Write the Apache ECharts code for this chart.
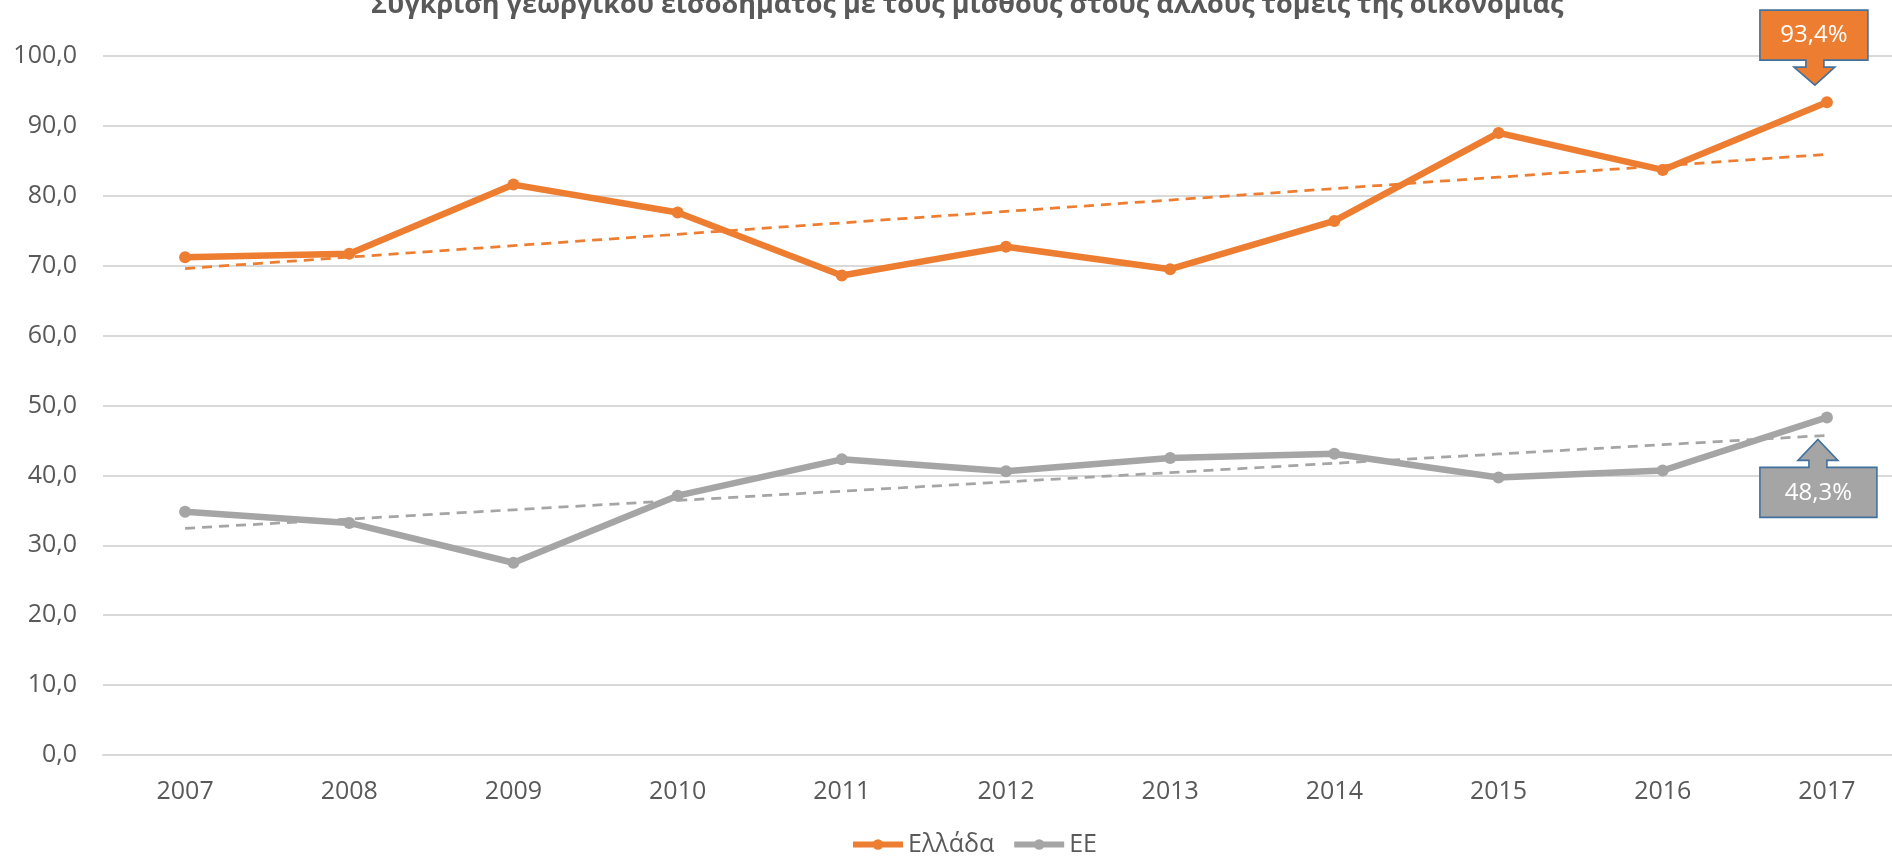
<!DOCTYPE html>
<html>
<head>
<meta charset="utf-8">
<script src="https://cdn.jsdelivr.net/npm/echarts@6/dist/echarts.min.js"></script>
<style>
  html, body { margin: 0; padding: 0; background: #ffffff; overflow: hidden; }
  /* plot area runs slightly past the right edge of the window */
  #chart { width: 1912px; height: 856px; }
</style>
</head>
<body>
<div id="chart"></div>
<script>
// Years on the category axis
const years = ['2007', '2008', '2009', '2010', '2011', '2012', '2013', '2014', '2015', '2016', '2017'];
// Agricultural income as % of wages in other sectors
const greece = [71.2, 71.7, 81.6, 77.6, 68.6, 72.7, 69.5, 76.4, 89.0, 83.7, 93.4];
const eu = [34.8, 33.2, 27.5, 37.1, 42.3, 40.6, 42.5, 43.1, 39.7, 40.7, 48.3];
const seriesNames = ['Ελλάδα', 'ΕΕ'];
const titleText = 'Σύγκριση γεωργικού εισοδήματος με τους μισθούς στους άλλους τομείς της οικονομίας';

const ORANGE = '#ED7D31';
const GREY = '#A5A5A5';
const TEXT = '#595959';
const BORDER = '#41719C';
const FONT = '"Open Sans", "Noto Sans", sans-serif';

// Least-squares linear trend over the category index
function linearTrend(values) {
  const n = values.length;
  let sx = 0, sy = 0, sxy = 0, sxx = 0;
  values.forEach((v, i) => { sx += i; sy += v; sxy += i * v; sxx += i * i; });
  const slope = (n * sxy - sx * sy) / (n * sxx - sx * sx);
  const icept = (sy - slope * sx) / n;
  return values.map((_, i) => +(icept + slope * i).toFixed(3));
}

const fmt = v => v.toFixed(1).replace('.', ',');

const chart = echarts.init(document.getElementById('chart'), null, { renderer: 'canvas' });

chart.setOption({
  animation: false,
  backgroundColor: '#ffffff',
  title: {
    text: titleText,
    left: 371,
    top: -8,
    padding: 0,
    textStyle: { fontFamily: FONT, fontSize: 27, fontWeight: 'bold', color: TEXT }
  },
  legend: {
    data: seriesNames,
    left: 850,
    top: 832,
    itemWidth: 50,
    itemHeight: 13,
    itemGap: 17,
    padding: 0,
    lineStyle: { width: 6 },
    textStyle: { fontFamily: FONT, fontSize: 25, color: TEXT }
  },
  grid: { left: 103, top: 56, width: 1806, height: 699, containLabel: false },
  xAxis: {
    type: 'category',
    data: years,
    boundaryGap: true,
    axisLine: { show: true, lineStyle: { color: '#D9D9D9', width: 2 } },
    axisTick: { show: false },
    axisLabel: { fontFamily: FONT, fontSize: 25, color: TEXT, margin: 24 }
  },
  yAxis: {
    type: 'value',
    min: 0,
    max: 100,
    interval: 10,
    axisLine: { show: false },
    axisTick: { show: false },
    splitLine: { lineStyle: { color: '#D9D9D9', width: 2 } },
    axisLabel: { fontFamily: FONT, fontSize: 25, color: TEXT, margin: 26, formatter: v => fmt(v) }
  },
  series: [
    {
      name: seriesNames[0], type: 'line', data: greece,
      symbol: 'circle', symbolSize: 12,
      lineStyle: { color: ORANGE, width: 6.5 },
      itemStyle: { color: ORANGE },
      z: 3
    },
    {
      name: seriesNames[1], type: 'line', data: eu,
      symbol: 'circle', symbolSize: 12,
      lineStyle: { color: GREY, width: 6.5 },
      itemStyle: { color: GREY },
      z: 3
    },
    {
      name: 'trend-gr', type: 'line', data: linearTrend(greece),
      symbol: 'none', silent: true,
      lineStyle: { color: ORANGE, width: 2.75, type: [10, 7] },
      z: 4
    },
    {
      name: 'trend-eu', type: 'line', data: linearTrend(eu),
      symbol: 'none', silent: true,
      lineStyle: { color: GREY, width: 2.75, type: [10, 7] },
      z: 4
    }
  ]
});

// Callout shapes anchored to the last point of each series
const last = years.length - 1;
const pGr = chart.convertToPixel({ seriesIndex: 0 }, [last, greece[last]]);
const pEu = chart.convertToPixel({ seriesIndex: 1 }, [last, eu[last]]);

// Down-arrow callout above the Greece point
const downShape = [[-67, -92], [41, -92], [41, -42], [-3, -42], [-3, -35], [8, -35], [-12, -17],
  [-33, -35], [-21, -35], [-21, -42], [-67, -42]];
// Up-arrow callout below the EU point
const upShape = [[-67, 50], [-18, 50], [-18, 43], [-29, 43], [-9, 22], [11, 43], [0, 43],
  [0, 50], [50, 50], [50, 100], [-67, 100]];

chart.setOption({
  graphic: [
    {
      type: 'polygon', x: pGr[0], y: pGr[1], z: 100,
      shape: { points: downShape },
      style: { fill: ORANGE, stroke: BORDER, lineWidth: 1.6 }
    },
    {
      type: 'text', x: pGr[0] - 13, y: pGr[1] - 67, z: 101,
      style: { text: fmt(greece[last]) + '%', fill: '#ffffff', font: '24px ' + FONT, align: 'center', verticalAlign: 'middle' }
    },
    {
      type: 'polygon', x: pEu[0], y: pEu[1], z: 100,
      shape: { points: upShape },
      style: { fill: GREY, stroke: BORDER, lineWidth: 1.6 }
    },
    {
      type: 'text', x: pEu[0] - 8.5, y: pEu[1] + 76, z: 101,
      style: { text: fmt(eu[last]) + '%', fill: '#ffffff', font: '24px ' + FONT, align: 'center', verticalAlign: 'middle' }
    }
  ]
});
</script>
</body>
</html>
